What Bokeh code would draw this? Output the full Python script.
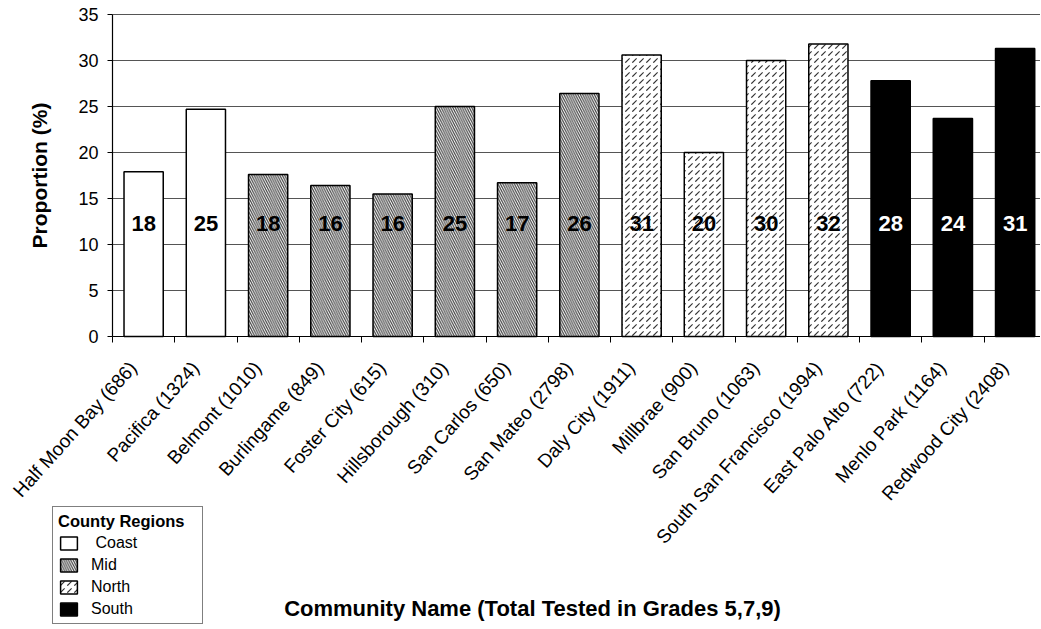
import math
from bokeh.plotting import figure
from bokeh.models import (ColumnDataSource, FixedTicker, Label, Legend, LegendItem, Range1d)
from bokeh.embed import file_html
from bokeh.resources import INLINE
from bokeh.core.properties import value

# ---------------- data ----------------
communities = ["Half Moon Bay", "Pacifica", "Belmont", "Burlingame", "Foster City",
               "Hillsborough", "San Carlos", "San Mateo", "Daly City", "Millbrae",
               "San Bruno", "South San Francisco", "East Palo Alto", "Menlo Park",
               "Redwood City"]
tested = [686, 1324, 1010, 849, 615, 310, 650, 2798, 1911, 900, 1063, 1994, 722, 1164, 2408]
regions = ["Coast", "Coast", "Mid", "Mid", "Mid", "Mid", "Mid", "Mid",
           "North", "North", "North", "North", "South", "South", "South"]
proportion = [17.9, 24.7, 17.6, 16.4, 15.5, 25.0, 16.7, 26.4,
              30.6, 20.0, 30.0, 31.8, 27.8, 23.7, 31.3]
value_labels = ["18", "25", "18", "16", "16", "25", "17", "26",
                "31", "20", "30", "32", "28", "24", "31"]
region_names = ["Coast", "Mid", "North", "South"]
y_ticks = [0, 5, 10, 15, 20, 25, 30, 35]

FONT = "Liberation Sans"

# ---------------- geometry (pixels) ----------------
W, H = 1040, 628
AX_LEFT, AX_TOP, AX_BOTTOM = 112, 14, 336      # pixel position of plot area
PX_PER_CAT = 62.25
PX_PER_UNIT = (AX_BOTTOM - AX_TOP) / 35.0

x_start = -AX_LEFT / PX_PER_CAT
x_end = (W - AX_LEFT) / PX_PER_CAT
y_end = 35 + AX_TOP / PX_PER_UNIT
y_start = 35 - (H - AX_TOP) / PX_PER_UNIT

p = figure(width=W, height=H, output_backend="svg", toolbar_location=None,
           x_range=Range1d(x_start, x_end), y_range=Range1d(y_start, y_end),
           min_border=0)
p.outline_line_color = None
p.background_fill_color = "white"
p.border_fill_color = "white"

centers = [i + 0.5 for i in range(len(communities))]
LABEL_SHIFT = 0.17   # rotated labels end a little left of the bar centre
label_pos = [c - LABEL_SHIFT for c in centers]
tick_labels = {c: f"{n} ({t})" for c, n, t in zip(label_pos, communities, tested)}

# x axis (drawn at y = 0)
p.xaxis.fixed_location = 0
p.xaxis.bounds = (0, x_end)
p.xaxis.ticker = FixedTicker(ticks=label_pos, minor_ticks=list(range(len(communities) + 1)))
p.xaxis.major_label_overrides = tick_labels
p.xaxis.major_tick_line_color = None
p.xaxis.major_tick_in = 0
p.xaxis.major_tick_out = 6
p.xaxis.minor_tick_line_color = "black"
p.xaxis.minor_tick_in = 0
p.xaxis.minor_tick_out = 6
p.xaxis.major_label_orientation = 0.84
p.xaxis.major_label_text_font = FONT
p.xaxis.major_label_text_font_size = "19px"
p.xaxis.major_label_text_color = "black"
p.xaxis.major_label_standoff = 22
p.xaxis.axis_line_color = "black"
p.xaxis.axis_line_width = 1.2

# y axis (drawn at x = 0)
p.yaxis.fixed_location = 0
p.yaxis.bounds = (0, 35)
p.yaxis.ticker = FixedTicker(ticks=y_ticks)
p.yaxis.major_tick_in = 0
p.yaxis.major_tick_out = 5
p.yaxis.major_tick_line_color = "black"
p.yaxis.minor_tick_line_color = None
p.yaxis.axis_line_color = "black"
p.yaxis.axis_line_width = 1.2
p.yaxis.major_label_text_font = FONT
p.yaxis.major_label_text_font_size = "18px"
p.yaxis.major_label_text_color = "black"
p.yaxis.major_label_standoff = 9
p.yaxis.axis_label = "Proportion (%)"
p.yaxis.axis_label_text_font = FONT
p.yaxis.axis_label_text_font_size = "21px"
p.yaxis.axis_label_text_font_style = "bold"
p.yaxis.axis_label_text_color = "black"
p.yaxis.axis_label_standoff = 24

p.xgrid.grid_line_color = None
p.ygrid.grid_line_color = None

# horizontal gridlines from the y ticks, starting at the y axis
grid_y = y_ticks[1:]
p.segment(x0=[0] * len(grid_y), x1=[x_end] * len(grid_y), y0=grid_y, y1=grid_y,
          line_color="#555555", line_width=1, level="underlay")

# ---------------- bars ----------------
styles = {
    "Coast": dict(fill_color="white", hatch_pattern=" "),
    "Mid": dict(fill_color="white", hatch_pattern="\\", hatch_color="#444444",
                hatch_scale=4.7, hatch_weight=1.2),
    "North": dict(fill_color="white", hatch_pattern=",", hatch_color="#333333",
                  hatch_scale=7, hatch_weight=1.2),
    "South": dict(fill_color="black", hatch_pattern=" "),
}

renderers = {}
for reg in region_names:
    idx = [i for i, r in enumerate(regions) if r == reg]
    src = ColumnDataSource(dict(x=[centers[i] for i in idx],
                                top=[proportion[i] for i in idx]))
    renderers[reg] = p.vbar(x="x", top="top", bottom=0, width=0.63, source=src,
                            line_color="black", line_width=1.5, **styles[reg])

# value labels
lab_src = ColumnDataSource(dict(
    x=centers, y=[12.3] * len(centers), text=value_labels,
    color=["white" if r == "South" else "black" for r in regions]))
p.text(x="x", y="y", text="text", source=lab_src, text_color="color",
       text_font=value(FONT), text_font_size="22px", text_font_style="bold",
       text_align="center", text_baseline="middle")

# x axis title
p.add_layout(Label(x=532, y=H - 608, x_units="screen", y_units="screen",
                   text="Community Name (Total Tested in Grades 5,7,9)",
                   text_font=FONT, text_font_size="22px", text_font_style="bold",
                   text_align="center", text_baseline="middle", text_color="black"))

# legend
legend_labels = {"Coast": " Coast", "Mid": "Mid", "North": "North", "South": "South"}
legend = Legend(items=[LegendItem(label=legend_labels[r], renderers=[renderers[r]])
                       for r in region_names],
                location=(52, 4), title="County Regions",
                title_text_font=FONT, title_text_font_size="16.5px",
                title_text_font_style="bold", title_text_color="black",
                title_standoff=3,
                label_text_font=FONT, label_text_font_size="16px",
                label_text_color="black", label_standoff=12,
                label_width=106,
                glyph_width=21, glyph_height=16, spacing=4, padding=5, margin=0,
                border_line_color="black", border_line_width=1.5,
                background_fill_color="white", background_fill_alpha=1)
p.add_layout(legend)

open("out.html", "w").write(file_html(p, INLINE))
